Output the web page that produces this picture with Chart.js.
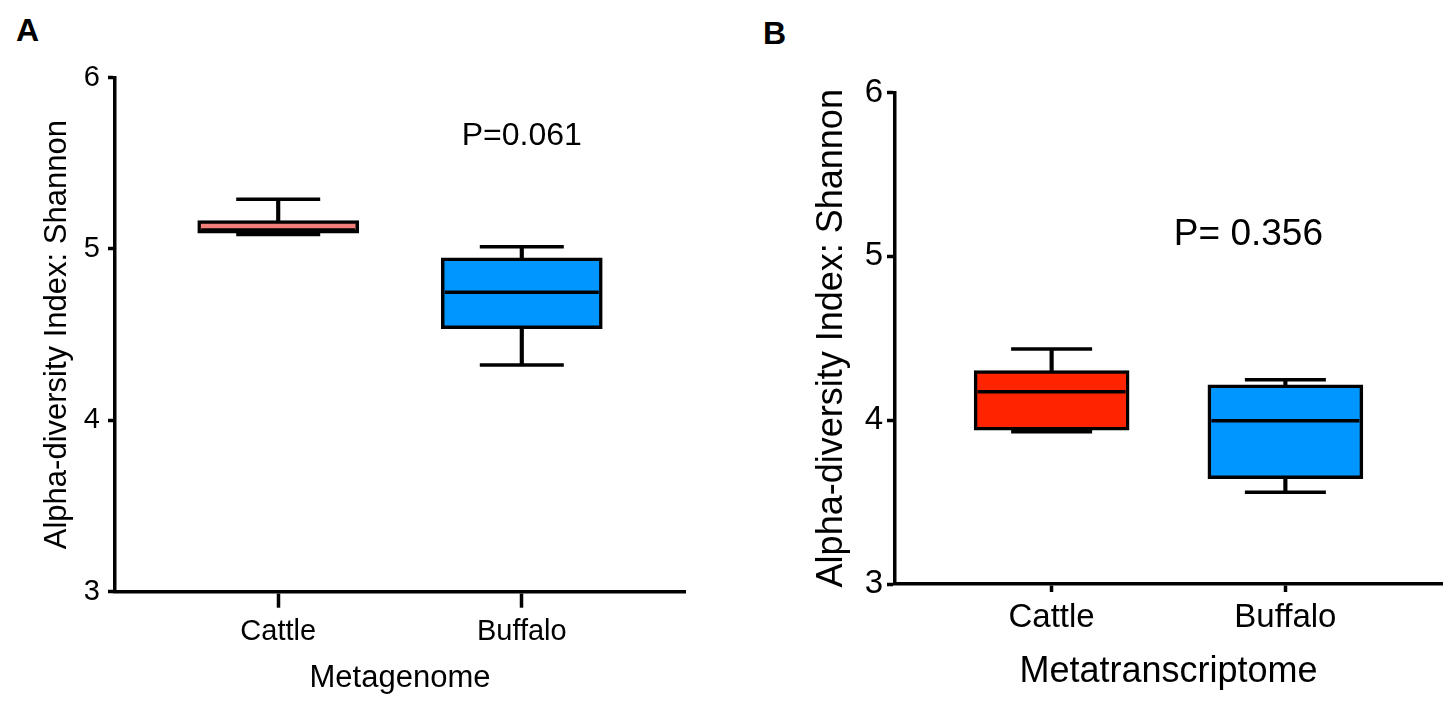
<!DOCTYPE html>
<html>
<head>
<meta charset="utf-8">
<script src="https://cdn.jsdelivr.net/npm/chart.js@4.4.1/dist/chart.umd.min.js"></script>
<style>
  body { margin: 0; background: #fff; width: 1453px; height: 704px; overflow: hidden; position: relative; font-family: "Liberation Sans", Arial, sans-serif; }
  .panel { position: absolute; top: 0; }
  .letter { position: absolute; font-weight: bold; font-size: 32px; line-height: 1; color: #000; }
</style>
</head>
<body>
<div class="letter" style="left:16px; top:14px;">A</div>
<div class="letter" style="left:763px; top:17px;">B</div>
<canvas id="chartA" class="panel" style="left:0;" width="720" height="704"></canvas>
<canvas id="chartB" class="panel" style="left:720px;" width="733" height="704"></canvas>
<script>
const groups = ['Cattle', 'Buffalo'];
const yTicks = [3, 4, 5, 6];

// Metagenome (panel A)
const genomeMin    = [5.085, 4.323];
const genomeQ1     = [5.092, 4.535];
const genomeMedian = [5.110, 4.747];
const genomeQ3     = [5.165, 4.948];
const genomeMax    = [5.290, 5.013];

// Metatranscriptome (panel B)
const transMin    = [3.930, 3.560];
const transQ1     = [3.939, 3.643];
const transMedian = [4.173, 3.996];
const transQ3     = [4.303, 4.215];
const transMax    = [4.435, 4.246];

const pValues = ['P=0.061', 'P= 0.356'];

const FONT = '"Liberation Sans", Arial, sans-serif';
Chart.defaults.font.family = FONT;
Chart.defaults.color = '#000';

const pValuePlugin = {
    id: 'pValue',
    afterDatasetsDraw(chart, args, o) {
        const { ctx, scales: { x, y } } = chart;
        ctx.save();
        ctx.font = o.size + 'px ' + FONT;
        ctx.fillStyle = '#000';
        ctx.textAlign = 'center';
        ctx.textBaseline = 'middle';
        ctx.fillText(o.text, x.getPixelForValue(o.x), y.getPixelForValue(o.y));
        ctx.restore();
    }
};

function createBoxChart(canvasId, s, cfg) {
    const pts = arr => arr.map((v, i) => ({ x: i + 1, y: v }));
    const ctx = document.getElementById(canvasId).getContext('2d');
    return new Chart(ctx, {
        type: 'bar',
        data: {
            datasets: [
                {   // whisker stems
                    type: 'bar',
                    data: groups.map((g, i) => ({ x: i + 1, y: [s.min[i], s.max[i]] })),
                    backgroundColor: '#000',
                    barThickness: 3.5,
                    grouped: false,
                    order: 3
                },
                {   // boxes
                    type: 'bar',
                    data: groups.map((g, i) => ({ x: i + 1, y: [s.q1[i], s.q3[i]] })),
                    backgroundColor: cfg.colors,
                    borderColor: '#000',
                    borderWidth: 3.5,
                    borderSkipped: false,
                    barThickness: cfg.boxWidth,
                    grouped: false,
                    order: 2
                },
                {   // medians
                    type: 'scatter',
                    data: pts(s.median),
                    pointStyle: 'line',
                    pointRadius: (cfg.boxWidth - 7) / 2,
                    pointBorderWidth: 3.5,
                    pointBorderColor: '#000',
                    order: 1
                },
                {   // whisker caps
                    type: 'scatter',
                    data: pts(s.min).concat(pts(s.max)),
                    pointStyle: 'line',
                    pointRadius: cfg.capHalf,
                    pointBorderWidth: 3.5,
                    pointBorderColor: '#000',
                    order: 0
                }
            ]
        },
        options: {
            responsive: false,
            animation: false,
            events: [],
            layout: { padding: cfg.padding, autoPadding: false },
            scales: {
                x: {
                    type: 'linear',
                    offset: false,
                    bounds: 'data',
                    min: 0.33,
                    max: 2.67,
                    afterBuildTicks: ax => { ax.ticks = groups.map((g, i) => ({ value: i + 1 })); },
                    afterFit: ax => {
                        ax.height = cfg.xHeight;
                        ax.paddingLeft = 0;
                        ax.paddingRight = 0;
                    },
                    ticks: {
                        callback: v => groups[v - 1],
                        font: { size: cfg.tickSize },
                        color: '#000',
                        padding: cfg.xTickPad,
                        maxRotation: 0,
                        autoSkip: false
                    },
                    grid: { offset: false, drawOnChartArea: false, tickLength: cfg.xTickLen, tickWidth: 3.5, tickColor: '#000' },
                    border: { color: '#000', width: 3.5 },
                    title: {
                        display: true,
                        text: cfg.xTitle,
                        font: { size: cfg.titleSize },
                        color: '#000',
                        padding: { top: 0, bottom: cfg.xTitlePad }
                    }
                },
                y: {
                    min: 3,
                    max: 6,
                    afterBuildTicks: ax => { ax.ticks = yTicks.map(v => ({ value: v })); },
                    afterFit: ax => {
                        ax.width = cfg.yWidth;
                        ax.paddingTop = 0;
                        ax.paddingBottom = 0;
                    },
                    ticks: { font: { size: cfg.tickSize }, color: '#000', padding: cfg.yTickPad },
                    grid: { drawOnChartArea: false, tickLength: cfg.yTickLen, tickWidth: 3.5, tickColor: '#000' },
                    border: { color: '#000', width: 3.5 },
                    title: {
                        display: true,
                        text: 'Alpha-diversity Index: Shannon',
                        font: { size: cfg.titleSize },
                        color: '#000',
                        padding: { top: cfg.yTitlePad, bottom: 0 }
                    }
                }
            },
            plugins: {
                legend: { display: false },
                tooltip: { enabled: false },
                pValue: cfg.pValue
            }
        },
        plugins: [pValuePlugin]
    });
}

createBoxChart('chartA',
    { min: genomeMin, q1: genomeQ1, median: genomeMedian, q3: genomeQ3, max: genomeMax },
    {
        colors: ['#f2807a', '#0096ff'],
        boxWidth: 161, capHalf: 42,
        padding: { top: 77.6, right: 35, bottom: 0, left: 0 },
        xHeight: 112.3, yWidth: 115,
        tickSize: 29, titleSize: 31,
        xTickLen: 16, xTickPad: 7, yTickLen: 7, yTickPad: 8,
        xTitle: 'Metagenome', xTitlePad: 7, yTitlePad: 38.4,
        pValue: { text: pValues[0], x: 2.0, y: 5.66, size: 32 }
    });

createBoxChart('chartB',
    { min: transMin, q1: transQ1, median: transMedian, q3: transQ3, max: transMax },
    {
        colors: ['#ff2400', '#0096ff'],
        boxWidth: 155, capHalf: 40.5,
        padding: { top: 92.5, right: 11, bottom: 0, left: 0 },
        xHeight: 120, yWidth: 175,
        tickSize: 33, titleSize: 36,
        xTickLen: 8, xTickPad: 6.4, yTickLen: 8, yTickPad: 4,
        xTitle: 'Metatranscriptome', xTitlePad: 9.9, yTitlePad: 90.4,
        pValue: { text: pValues[1], x: 1.842, y: 5.13, size: 37 }
    });
</script>
</body>
</html>
